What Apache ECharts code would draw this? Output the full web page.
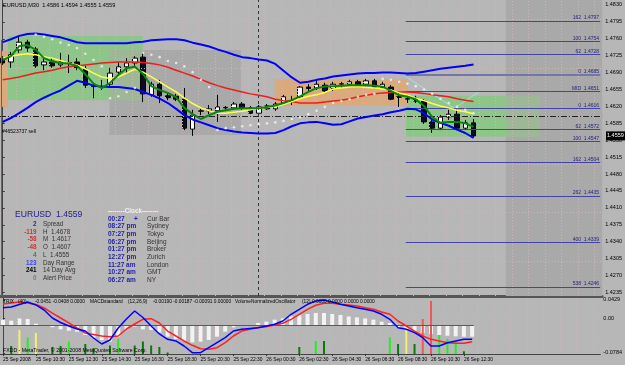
<!DOCTYPE html>
<html><head><meta charset="utf-8">
<script src="https://cdn.jsdelivr.net/npm/echarts@6/dist/echarts.min.js"></script>
<style>html,body{margin:0;padding:0;background:#b7b7b7;}#c{width:625px;height:365px;}</style>
</head><body><div id="c"></div>
<script>
// ---------- DATA ----------
const timeLabels = ['25 Sep 2008','25 Sep 10:30','25 Sep 12:30','25 Sep 14:30','25 Sep 16:30','25 Sep 18:30','25 Sep 20:30','25 Sep 22:30','26 Sep 00:30','26 Sep 02:30','26 Sep 04:30','26 Sep 06:30','26 Sep 08:30','26 Sep 10:30','26 Sep 12:30'];
const priceTicks = [1.4830,1.4795,1.4760,1.4725,1.4690,1.4655,1.4620,1.4585,1.4550,1.4515,1.4480,1.4445,1.4410,1.4375,1.4340,1.4305,1.4270,1.4235];
const trixTicks = [0.0429, 0, -0.0784];

const open = [1.4720,1.4712,1.4737,1.4753,1.4739,1.4706,1.4714,1.4706,1.4710,1.4712, 1.4698,1.4662,1.4661,1.4666,1.4691,1.4702,1.4710,1.4722,1.4644,1.4666, 1.4642,1.4641,1.4635,1.4573,1.4610,1.4611,1.4611,1.4617,1.4617,1.4625, 1.4617,1.4606,1.4621,1.4615,1.4627,1.4631,1.4640,1.4660,1.4658,1.4664, 1.4657,1.4666,1.4666,1.4671,1.4666,1.4673,1.4660,1.4660,1.4640,1.4635, 1.4637,1.4631,1.4588,1.4575,1.4598,1.4604,1.4575,1.4586];
const close = [1.4710,1.4727,1.4753,1.4741,1.4704,1.4712,1.4704,1.4712,1.4711,1.4700, 1.4664,1.4661,1.4660,1.4689,1.4702,1.4710,1.4720,1.4646,1.4666,1.4642, 1.4638,1.4635,1.4575,1.4602,1.4611,1.4615,1.4619,1.4618,1.4625,1.4617, 1.4606,1.4619,1.4615,1.4625,1.4640,1.4632,1.4660,1.4657,1.4666,1.4652, 1.4666,1.4667,1.4671,1.4664,1.4673,1.4660,1.4666,1.4635,1.4639,1.4636, 1.4631,1.4588,1.4575,1.4598,1.4604,1.4575,1.4586,1.4559];
const low = [1.4706,1.4700,1.4731,1.4733,1.4700,1.4695,1.4700,1.4702,1.4689,1.4695, 1.4658,1.4637,1.4654,1.4658,1.4683,1.4689,1.4704,1.4629,1.4640,1.4627, 1.4633,1.4631,1.4571,1.4559,1.4602,1.4604,1.4588,1.4613,1.4613,1.4613, 1.4604,1.4600,1.4613,1.4611,1.4625,1.4623,1.4635,1.4652,1.4654,1.4648, 1.4652,1.4658,1.4662,1.4660,1.4662,1.4657,1.4657,1.4633,1.4619,1.4627, 1.4627,1.4584,1.4565,1.4571,1.4592,1.4571,1.4571,1.4555];
const high = [1.4724,1.4733,1.4764,1.4758,1.4743,1.4720,1.4720,1.4731,1.4727,1.4720, 1.4704,1.4669,1.4675,1.4700,1.4712,1.4720,1.4724,1.4733,1.4671,1.4675, 1.4648,1.4646,1.4658,1.4613,1.4615,1.4623,1.4644,1.4621,1.4629,1.4629, 1.4621,1.4623,1.4625,1.4629,1.4644,1.4642,1.4662,1.4666,1.4675,1.4669, 1.4671,1.4671,1.4675,1.4675,1.4677,1.4677,1.4671,1.4664,1.4648,1.4642, 1.4642,1.4635,1.4592,1.4602,1.4613,1.4617,1.4592,1.4594];

const bandUpper = [1.4753,1.4759,1.4766,1.4770,1.4771,1.4769,1.4766,1.4763,1.4758,1.4753, 1.4751,1.4751,1.4751,1.4751,1.4751,1.4751,1.4753,1.4754,1.4757,1.4758, 1.4759,1.4759,1.4757,1.4752,1.4748,1.4744,1.4738,1.4733,1.4727,1.4722, 1.4720,1.4717,1.4715,1.4708,1.4694,1.4680,1.4669,1.4671,1.4675,1.4678, 1.4682,1.4684,1.4686,1.4688,1.4689,1.4689,1.4690,1.4690,1.4689,1.4688, 1.4689,1.4692,1.4695,1.4698,1.4700,1.4702,1.4704,1.4707];
const bandLower = [1.4588,1.4596,1.4606,1.4617,1.4629,1.4638,1.4646,1.4653,1.4663,1.4673, 1.4669,1.4663,1.4661,1.4660,1.4660,1.4658,1.4656,1.4650,1.4644,1.4636, 1.4627,1.4615,1.4602,1.4593,1.4587,1.4581,1.4575,1.4571,1.4568,1.4566, 1.4565,1.4564,1.4564,1.4565,1.4571,1.4579,1.4585,1.4587,1.4588,1.4585, 1.4582,1.4583,1.4589,1.4595,1.4598,1.4601,1.4604,1.4608,1.4611,1.4615, 1.4614,1.4606,1.4593,1.4586,1.4580,1.4572,1.4565,1.4555];
const maSlow = [1.4675,1.4678,1.4681,1.4685,1.4689,1.4692,1.4695,1.4699,1.4702,1.4704, 1.4706,1.4708,1.4710,1.4711,1.4712,1.4712,1.4712,1.4711,1.4709,1.4706, 1.4701,1.4695,1.4689,1.4683,1.4676,1.4669,1.4663,1.4658,1.4654,1.4650, 1.4646,1.4643,1.4640,1.4635,1.4632,1.4630,1.4627,1.4627,1.4627,1.4629, 1.4631,1.4633,1.4636,1.4640,1.4643,1.4646,1.4648,1.4649,1.4650,1.4650, 1.4649,1.4647,1.4644,1.4642,1.4640,1.4636,1.4633,1.4630];
const maMid = [1.4720,1.4724,1.4727,1.4729,1.4727,1.4723,1.4720,1.4715,1.4710,1.4706, 1.4698,1.4689,1.4681,1.4678,1.4681,1.4689,1.4697,1.4691,1.4681,1.4671, 1.4660,1.4650,1.4637,1.4626,1.4617,1.4611,1.4606,1.4606,1.4608,1.4610, 1.4613,1.4616,1.4618,1.4620,1.4624,1.4630,1.4636,1.4641,1.4644,1.4649, 1.4656,1.4658,1.4660,1.4661,1.4659,1.4658,1.4656,1.4654,1.4648,1.4644, 1.4637,1.4632,1.4626,1.4621,1.4617,1.4612,1.4609,1.4605];
const maFast = [1.4716,1.4724,1.4745,1.4747,1.4737,1.4720,1.4713,1.4710,1.4709,1.4704, 1.4687,1.4667,1.4658,1.4669,1.4685,1.4699,1.4702,1.4687,1.4662,1.4654, 1.4648,1.4639,1.4617,1.4604,1.4594,1.4602,1.4609,1.4612,1.4615,1.4616, 1.4616,1.4616,1.4619,1.4622,1.4627,1.4633,1.4641,1.4650,1.4658,1.4661, 1.4662,1.4663,1.4664,1.4664,1.4664,1.4663,1.4661,1.4652,1.4643,1.4640, 1.4635,1.4621,1.4598,1.4586,1.4588,1.4588,1.4585,1.4578];
const sar = [null,null,null,null,1.4769,1.4764,1.4759,1.4752,1.4747,1.4741, 1.4729,1.4716,1.4703,1.4637,1.4641,1.4650,1.4658,1.4731,1.4727,1.4722, 1.4714,1.4710,1.4703,1.4691,1.4675,1.4660,1.4571,1.4575,1.4577,1.4579, 1.4581,1.4583,1.4585,1.4587,1.4590,1.4594,1.4598,1.4604,1.4611,1.4619, 1.4627,1.4631,1.4635,1.4640,1.4644,1.4646,1.4677,1.4675,1.4671,1.4667, 1.4662,1.4655,1.4646,1.4636,1.4627,1.4619,1.4613,1.4606];

const trixMain = [0.0252,0.0268,0.0325,0.0382,0.0314,0.0199,0.0016,-0.0087,-0.0167,-0.0236, -0.0282,-0.0442,-0.0579,-0.0488,-0.0213,-0.0007,0.0176,0.0027,-0.0167,-0.0350, -0.0472,-0.0510,-0.0625,-0.0778,-0.0778,-0.0664,-0.0549,-0.0435,-0.0282,-0.0243, -0.0224,-0.0206,-0.0167,-0.0128,-0.0053,0.0101,0.0215,0.0330,0.0405,0.0428, 0.0382,0.0330,0.0291,0.0252,0.0215,0.0176,0.0101,-0.0014,-0.0206,-0.0243, -0.0320,-0.0435,-0.0625,-0.0625,-0.0549,-0.0510,-0.0472,-0.0472];
const trixSignal = [0.0336,0.0359,0.0382,0.0359,0.0325,0.0245,0.0130,0.0016,-0.0098,-0.0213, -0.0327,-0.0362,-0.0396,-0.0412,-0.0396,-0.0236,-0.0121,-0.0014,0.0000,-0.0098, -0.0282,-0.0396,-0.0510,-0.0609,-0.0687,-0.0700,-0.0664,-0.0549,-0.0396,-0.0282, -0.0243,-0.0201,-0.0183,-0.0144,-0.0105,-0.0014,0.0101,0.0215,0.0307,0.0353, 0.0353,0.0330,0.0314,0.0291,0.0252,0.0215,0.0153,0.0101,-0.0053,-0.0167, -0.0282,-0.0396,-0.0472,-0.0510,-0.0549,-0.0563,-0.0563,-0.0526];
const macdHist = [0.00104,0.00087,0.00126,0.00116,0.00035,0,-0.00026,-0.00064,-0.00087,-0.00104, -0.00161,-0.00208,-0.00247,-0.00277,-0.0019,-0.00064,-0.00017,-0.00064,-0.00074,-0.00116, -0.0019,-0.0023,-0.00265,-0.00289,-0.00277,-0.00247,-0.0019,-0.00104,-0.00029,0, 0,0.00047,0.00069,0.00104,0.00126,0.00161,0.00185,0.00202,0.0022,0.0022, 0.00202,0.00185,0.00161,0.00144,0.00126,0.00104,0.00069,0.00047,-0.00029,-0.00064, -0.00099,-0.00126,-0.00144,-0.00161,-0.00173,-0.00185,-0.0019,-0.0019];
const volOsc = [0,8,24,16.5,21,0,7,8,12.5,0, 10,6,0,8.5,15,0,8.5,12.5,8.5,7, 1.5,0,0,0,0,0,0,0,0,0, 0,0,0,0,0,0,7,0,13,13, 0,0,0,0,0,0,0,16.7,10,26, 10,35,53,19,15,12.7,2.7,0];
const volState = ['u','u','c','s','c','u','u','u','s','u', 'u','u','u','u','s','u','u','u','u','u', 'u','u','u','u','u','u','u','u','u','u', 'u','u','u','u','u','u','u','u','s','u', 'u','u','u','u','u','u','u','s','u','c', 'u','x','x','s','s','s','u','u'];

// chart objects (bar index / price)
const zoneKind  = ['future','gray','green','green','orange','orange'];
const zoneStart = [60.9, 12.93, 0.64, 48.83, -0.4, 32.93];
const zoneEnd   = [73, 28.83, 16.94, 65.0, 0.64, 49.07];
const zoneLow   = [1.40, 1.4561, 1.4633, 1.4557, 1.4619, 1.4621];
const zoneHigh  = [1.50, 1.4737, 1.4766, 1.4642, 1.4735, 1.4677];
const fibNames  = ['162','100','62','0','MID','0','62','100','162','262','400','538'];
const fibPrices = [1.4797,1.4754,1.4728,1.4685,1.4651,1.4616,1.4572,1.4547,1.4504,1.4435,1.4339,1.4246];
const fibFrom = 48.8, fibTo = 72.33;
const trendX = [48.8, 54.7, 57.7];
const trendP = [1.4682, 1.4616, 1.4651];
const daySeparator = 30.9;
const orderPrice = 1.4559;
const lastPrice = 1.4559;

// ---------- CHART ----------
const X_MIN = -0.325, X_MAX = 72.575;
const P_MIN = 1.42276, P_MAX = 1.48403;
const FONT = '"Liberation Sans", Arial, sans-serif';
const idx = open.map((_, i) => i);
const vGrid = Array.from({length: 37}, (_, k) => X_MIN + 2 * k);
const zoneColor = {future:'#a9a9a9', gray:'#a9a9a9', green:'#8dc688', orange:'#d8aa7e'};

const areas = zoneKind.map((k, j) => [
  {coord:[zoneStart[j], Math.max(zoneLow[j], P_MIN)], itemStyle:{color: zoneColor[k], opacity:1}},
  {coord:[Math.min(zoneEnd[j], X_MAX), Math.min(zoneHigh[j], P_MAX)]}
]);
// stippled overlaps of green boxes with grey boxes
zoneKind.forEach((k, a) => {
  if (k !== 'green') return;
  zoneKind.forEach((k2, b) => {
    if (k2 !== 'gray' && k2 !== 'future') return;
    const x0 = Math.max(zoneStart[a], zoneStart[b]), x1 = Math.min(zoneEnd[a], zoneEnd[b]);
    const p0 = Math.max(zoneLow[a], zoneLow[b]), p1 = Math.min(zoneHigh[a], zoneHigh[b]);
    if (x1 > x0 && p1 > p0) areas.push([{coord:[x0,p0], itemStyle:{color:'#9db797', opacity:1}}, {coord:[x1,p1]}]);
  });
});

const line = (arr, color, width, z) => ({
  type:'line', xAxisIndex:0, yAxisIndex:0, data: idx.map(i => [i, arr[i]]),
  symbol:'none', lineStyle:{color, width}, z, silent:true
});
const volColor = {u:'#0a7a0a', s:'#22ee22', c:'#f4f070', x:'#f05858'};

const series = [
  {type:'line', xAxisIndex:0, yAxisIndex:0, data:[], silent:true, z:1,
   markArea:{silent:true, data: areas}},
  {type:'line', xAxisIndex:0, yAxisIndex:0, data:[], silent:true, z:2,
   markLine:{silent:true, symbol:['none','none'], label:{show:false},
     lineStyle:{color:'#cdb6b6', type:[1,2], width:1},
     data:[...vGrid.map(v => ({xAxis:v})), ...priceTicks.map(p => ({yAxis:p})),
           {xAxis: daySeparator, lineStyle:{color:'#333', type:[3,3], width:1}},
           {yAxis: orderPrice, lineStyle:{color:'#222', type:[6,2,1,2], width:1}}]}},
  {type:'line', xAxisIndex:0, yAxisIndex:0, data:[], silent:true, z:2,
   markLine:{silent:true, symbol:['none','none'],
     lineStyle:{color:'#4444a6', width:1, type:'solid'},
     label:{show:true, position:'insideEndTop', fontSize:5, color:'#23237e', distance:[1,0.5], fontFamily:FONT},
     data: fibPrices.map((p, j) => [
       {coord:[fibFrom, p], label:{formatter: fibNames[j] + '  ' + p.toFixed(4)},
        lineStyle: (j === 3 ? {color:'#7676a6', width:2} : undefined)},
       {coord:[fibTo, p]}])}},
  {type:'line', xAxisIndex:0, yAxisIndex:0, data: trendX.map((x, j) => [x, trendP[j]]),
   symbol:'none', lineStyle:{color:'#9ee2e2', width:1}, z:3, silent:true},
  {type:'candlestick', xAxisIndex:0, yAxisIndex:0, barWidth:5, z:4, silent:true,
   data: idx.map(i => [i, open[i], close[i], low[i], high[i]]), encode:{x:0, y:[1,2,3,4]},
   itemStyle:{color:'#ffffff', color0:'#0b0b26', borderColor:'#000', borderColor0:'#000', borderWidth:1}},
  line(maSlow, '#ee1c1c', 1.5, 5),
  line(maMid, '#ffff4a', 1.5, 5),
  line(bandUpper, '#0000ff', 2, 6),
  line(bandLower, '#0000ff', 2, 6),
  line(maFast, '#0a860a', 2, 6),
  {type:'scatter', xAxisIndex:0, yAxisIndex:0, symbolSize:2.6, z:7, silent:true,
   itemStyle:{color:'#f4f4f4'}, data: idx.filter(i => sar[i] != null).map(i => [i, sar[i]])},
  // indicator pane
  {type:'line', xAxisIndex:1, yAxisIndex:2, data:[], silent:true, z:2,
   markLine:{silent:true, symbol:['none','none'], label:{show:false},
     lineStyle:{color:'#cdb6b6', type:[1,2], width:1},
     data:[...vGrid.map(v => ({xAxis:v})),
           [{coord:[X_MIN, 0], lineStyle:{color:'#5a5a5a', type:'solid', width:1}}, {coord:[57.2, 0]}]]}},
  {type:'bar', xAxisIndex:1, yAxisIndex:2, barWidth:4, z:3, silent:true,
   data: idx.map(i => [i, macdHist[i]]), itemStyle:{color:'#f3f3f3'}},
  {type:'bar', xAxisIndex:2, yAxisIndex:3, barWidth:2, z:4, silent:true,
   data: idx.map(i => ({value:[i, volOsc[i]], itemStyle:{color: volColor[volState[i]]}}))},
  {type:'line', xAxisIndex:1, yAxisIndex:1, data: idx.map(i => [i, trixSignal[i]]),
   symbol:'none', lineStyle:{color:'#ff2020', width:1.5}, z:5, silent:true},
  {type:'line', xAxisIndex:1, yAxisIndex:1, data: idx.map(i => [i, trixMain[i]]),
   symbol:'none', lineStyle:{color:'#0000ff', width:1.5}, z:6, silent:true}
];

const labelIdx = timeLabels.map((_, k) => k * 4);
const option = {
  animation:false,
  backgroundColor:'#b7b7b7',
  grid:[{left:0, top:0, width:605, height:296}, {left:0, top:298, width:605, height:56}],
  xAxis:[
    {type:'value', gridIndex:0, min:X_MIN, max:X_MAX, axisLabel:{show:false}, axisTick:{show:false},
     splitLine:{show:false}, axisLine:{show:true, onZero:false, lineStyle:{color:'#555', width:3}}},
    {type:'value', gridIndex:1, min:X_MIN, max:X_MAX, splitLine:{show:false},
     axisLine:{show:true, onZero:false, lineStyle:{color:'#444', width:1}},
     axisTick:{show:true, customValues:labelIdx, length:2, lineStyle:{color:'#333'}},
     axisLabel:{show:true, customValues:labelIdx, formatter: v => timeLabels[Math.round(v / 4)],
       fontSize:4.9, color:'#000', fontFamily:FONT, align:'left', margin:3}},
    {type:'value', gridIndex:1, min:X_MIN, max:X_MAX, show:false}
  ],
  yAxis:[
    {type:'value', gridIndex:0, min:P_MIN, max:P_MAX, position:'right', splitLine:{show:false},
     axisLine:{show:true, lineStyle:{color:'#444'}},
     axisTick:{show:true, customValues:priceTicks, length:2, lineStyle:{color:'#333'}},
     axisLabel:{show:true, customValues:priceTicks, formatter: v => v.toFixed(4),
       fontSize:5.5, color:'#000', fontFamily:FONT, margin:3}},
    {type:'value', gridIndex:1, min:-0.0808, max:0.04738, position:'right', splitLine:{show:false},
     axisLine:{show:true, lineStyle:{color:'#444'}},
     axisTick:{show:true, customValues:trixTicks, length:2, lineStyle:{color:'#333'}},
     axisLabel:{show:true, customValues:trixTicks, formatter: v => v === 0 ? '0.00' : v.toFixed(4),
       fontSize:5.5, color:'#000', fontFamily:FONT, margin:3}},
    {type:'value', gridIndex:1, min:-0.004896, max:0.004792, show:false},
    {type:'value', gridIndex:1, min:0, max:56, show:false}
  ],
  series
};

const chart = echarts.init(document.getElementById('c'));
chart.setOption(option);

// ---------- TEXT OVERLAYS ----------
const G = [];
function txt(x, y, text, size, fill, weight, align) {
  G.push({type:'text', x, y, silent:true, z:100,
    style:{text, fill: fill || '#000', font: (weight || 'normal') + ' ' + size + 'px ' + FONT,
           align: align || 'left', verticalAlign:'middle', textAlign: align || 'left', textVerticalAlign:'middle'}});
}
txt(3, 5, 'EURUSD,M30  1.4586 1.4594 1.4555 1.4559', 5.6);
txt(2, 132, '#46523737 sell', 5);
// info panel
txt(15, 215, 'EURUSD  1.4559', 8.6, '#1c1c8e');
const infoVals = ['2','-119','-58','-48','4','123','241','0'];
const infoCols = ['#2424c4','#d23232','#d23232','#d23232','#1e9e1e','#3444ff','#000','#7a7a7a'];
const infoLbls = ['Spread','H  1.4678','M  1.4617','O  1.4607','L  1.4555','Day Range','14 Day Avg','Alert Price'];
const infoY = [224.3,231.8,239.4,247.2,255.2,263,270.7,278.3];
infoVals.forEach((v, j) => { txt(36.5, infoY[j], v, 6.3, infoCols[j], 'bold', 'right'); txt(43, infoY[j], infoLbls[j], 6.3, '#333'); });
// clock
txt(108, 210.8, '--------Clock--------', 6.3, '#f2f2f2', 'bold');
const clockT = ['00:27','08:27 pm','07:27 pm','06:27 pm','01:27 pm','12:27 pm','11:27 am','10:27 am','06:27 am'];
const clockL = ['Cur Bar','Sydney','Tokyo','Beijing','Broker','Zurich','London','GMT','NY'];
const clockY = [219,226.7,234.3,242,249.7,257.3,265,272.7,280.3];
clockT.forEach((t, j) => { txt(108, clockY[j], t, 6.5, '#1e1ea2', 'bold'); txt(147, clockY[j], clockL[j], 6.5, '#333'); });
txt(134, clockY[0], '+', 6.5, '#1e1ea2', 'bold');
// indicator header
const hY = 302, hS = 4.8;
txt(3, hY, 'TRIX', hS); txt(18, hY, '(40)', hS); txt(35, hY, '-0.0451 -0.0408 0.0000', hS);
txt(90, hY, 'MACDstandard', hS); txt(128, hY, '(12,26,9)', hS); txt(153, hY, '-0.00190 -0.00187 -0.00091 0.00000', hS);
txt(235, hY, 'VolumeNormalizedOscillator', hS); txt(302, hY, '(12)', hS); txt(312, hY, '0.0000 0.0000 0.0000 0.0000', hS);
txt(3, 351, 'FXDD - MetaTrader, \u00A9 2001-2008 MetaQuotes Software Corp.', 5.2);
// current price tag on the price scale
const yLast = chart.convertToPixel({yAxisIndex:0}, lastPrice);
G.push({type:'rect', silent:true, z:99, shape:{x:606, y:yLast - 4.5, width:19, height:9}, style:{fill:'#000'}});
txt(607, yLast, lastPrice.toFixed(4), 5.5, '#fff');
// left frame line
G.push({type:'line', silent:true, z:98, shape:{x1:1.5, y1:40, x2:1.5, y2:296}, style:{stroke:'#666', lineWidth:1}});
chart.setOption({graphic: G});
</script></body></html>
